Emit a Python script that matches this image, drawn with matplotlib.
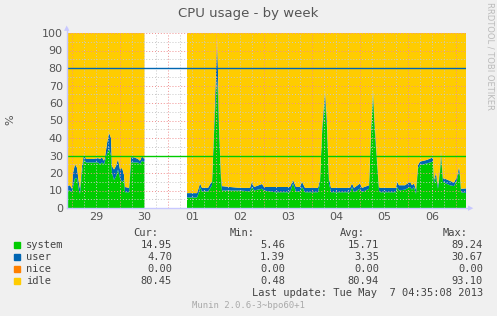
import numpy as np
import matplotlib
matplotlib.use("Agg")
import matplotlib.pyplot as plt

# ---- data: hours since 29 Apr 00:00, system %, system+user % (stack top) ----
hours = [-2.5, -1, 0, 0.5, 1.5, 2.5, 3.5, 4, 5, 6, 7, 10, 13, 14, 15, 16, 16.5, 17.5, 18.5, 19.5,
         20, 21, 22, 23, 24, 25, 26, 26.5, 28.5, 29.5, 31, 33, 34, 35, 36.25,
         36.5,  # no data (gap)
         57.5, 62.5, 63.5, 64, 65, 68, 69, 70, 71, 72, 72.5, 73, 73.5, 74.5, 75, 79, 84, 89, 90, 91,
         95, 96, 101.5, 109, 110.5, 112, 114, 115, 116.5, 123, 124, 125, 126.5, 127.5, 128.5, 129.5,
         139, 140, 141, 144, 145, 148.5, 149.5, 150.5, 151.5, 152.5, 153.5, 154, 162, 162.5, 163.5,
         166.5, 169, 170, 171, 172, 173, 174, 177.5, 180.5, 181, 182, 183, 184, 184.5, 185.5, 187,
         189, 191, 192.5, 193.5, 194, 194.5, 197]
system = [10, 10, 9, 12, 17, 17, 10, 8, 20, 28, 26, 26, 26, 25, 26, 25, 27, 31, 34, 30,
          20, 16, 18, 22, 17, 15, 16, 9, 9, 26, 26, 26, 25, 27, 26,
          np.nan,
          6, 6, 9, 12, 9.5, 9.5, 11, 13, 42, 66, 74, 64, 45, 16, 10, 10, 10, 9.5, 12, 10,
          11, 10, 9, 9, 14, 9.5, 9.5, 12, 9, 9, 14, 42, 62, 46, 14, 9,
          9, 12, 9, 11, 9, 11, 42, 65, 42, 26, 10, 9, 9, 12, 10,
          10.5, 12, 10.5, 12, 8, 22.5, 24.5, 25.5, 26.5, 14, 18, 11, 20, 30, 15, 14,
          13, 12.5, 16, 21.5, 18, 9, 8.6]
total = [12.5, 13, 11, 20, 25, 23, 14, 11, 24, 31, 28, 28, 28.5, 28, 29, 27, 29, 37, 43, 40,
         24, 22, 24, 28, 22, 23, 19, 12, 11.5, 29, 29, 28, 27, 29.5, 28,
         np.nan,
         8.5, 8.5, 12, 14, 11.5, 11.5, 13.5, 15, 46, 78, 98, 78, 50, 19, 12.5, 12, 11.5, 11.5, 15, 12,
         13.7, 12, 12, 12, 16, 12, 12, 15, 11.5, 11.5, 16, 45, 67, 50, 17, 11.5,
         11.5, 14, 11.5, 14, 11.5, 13, 45, 68, 46, 28.5, 12, 11.5, 11.5, 15, 13,
         13, 15, 13, 14, 10.5, 24.5, 26.5, 27.5, 29, 16, 20, 13, 22, 33, 17, 16.5,
         15.5, 14.5, 18, 23.5, 20, 11, 11.2]

day_labels = ["29", "30", "01", "02", "03", "04", "05", "06"]
series = ["system", "user", "nice", "idle"]
colors = ["#00CC00", "#0066B3", "#FF8000", "#FFCC00"]
cur = ["14.95", "4.70", "0.00", "80.45"]
vmin = ["5.46", "1.39", "0.00", "0.48"]
avg = ["15.71", "3.35", "0.00", "80.94"]
vmax = ["89.24", "30.67", "0.00", "93.10"]
warn, crit = 30, 80

W, H = 497, 316
fx = lambda x: x / W
fy = lambda y: 1 - y / H

fig = plt.figure(figsize=(W / 100, H / 100), dpi=100, facecolor="#F0F0F0")
ax = fig.add_axes([fx(67), fy(208), fx(466) - fx(67), fy(33) - fy(208)])
ax.set_facecolor("white")

t = np.array(hours); s = np.array(system); tot = np.array(total)
ax.fill_between(t, 0, s, color=colors[0], lw=0, zorder=2)
ax.fill_between(t, s, tot, color=colors[1], lw=0, zorder=2)
ax.fill_between(t, tot, 100, color=colors[3], lw=0, zorder=2)

ax.set_xlim(-2.5, 197)
ax.set_ylim(0, 100)

# grid drawn over the data, rrdtool style
for v in range(0, 101, 5):
    major = v % 10 == 0
    ax.axhline(v, color="#F09090" if major else "#C8C8C8", lw=0.7, ls=(0, (1, 2)), zorder=3)
for h in np.arange(0, 197, 6):
    major = h % 24 == 0
    ax.axvline(h, color="#F09090" if major else "#C8C8C8", lw=0.7, ls=(0, (1, 2)), zorder=3)

ax.axhline(crit, color="#0066B3", lw=1.0, zorder=4)
ax.axhline(warn, color="#00CC00", lw=1.0, zorder=4)

ax.set_yticks(range(0, 101, 10))
ax.set_xticks([12 + 24 * i for i in range(len(day_labels))])
ax.set_xticklabels(day_labels)
ax.tick_params(length=0, labelsize=8, labelcolor="#555555", pad=3)
for sp in ax.spines.values():
    sp.set_visible(False)
ax.plot([0, 0], [0, 1.03], transform=ax.transAxes, color="#C8C8FF", lw=1, clip_on=False, zorder=5)
ax.plot([0, 1.01], [0, 0], transform=ax.transAxes, color="#C8C8FF", lw=1, clip_on=False, zorder=5)
fig.text(fx(67), fy(28), "\u25B2", color="#C8C8FF", fontsize=5, ha="center", va="center")
fig.text(fx(471), fy(208), "\u25B6", color="#C8C8FF", fontsize=5, ha="center", va="center")

fig.text(fx(248), fy(14), "CPU usage - by week", ha="center", va="center", fontsize=9.5, color="#555555")
fig.text(fx(10), fy(120), "%", rotation=90, ha="center", va="center", fontsize=8, color="#555555")
fig.text(fx(490), fy(56), "RRDTOOL / TOBI OETIKER", rotation=270, ha="center", va="center",
         fontsize=6, color="#BBBBBB")

# legend block (monospaced, like rrdtool)
mono = dict(family="DejaVu Sans Mono", fontsize=7.5, color="#444444", va="center")
for x, lab in [(158, "Cur:"), (255, "Min:"), (365, "Avg:"), (468, "Max:")]:
    fig.text(fx(x), fy(233), lab, ha="right", **mono)
for i, name in enumerate(series):
    y = 245 + 12 * i
    fig.patches.append(plt.Rectangle((fx(14), fy(y + 3)), 6 / W, 6 / H, transform=fig.transFigure,
                                     color=colors[i], figure=fig))
    fig.text(fx(26), fy(y), name, ha="left", **mono)
    for x, col in [(172, cur), (285, vmin), (379, avg), (483, vmax)]:
        fig.text(fx(x), fy(y), col[i], ha="right", **mono)
fig.text(fx(483), fy(293), "Last update: Tue May  7 04:35:08 2013", ha="right", **mono)
fig.text(fx(248), fy(305), "Munin 2.0.6-3~bpo60+1", ha="center", va="center",
         family="DejaVu Sans Mono", fontsize=6.5, color="#AAAAAA")

fig.savefig("out.png", dpi=100, facecolor=fig.get_facecolor())
